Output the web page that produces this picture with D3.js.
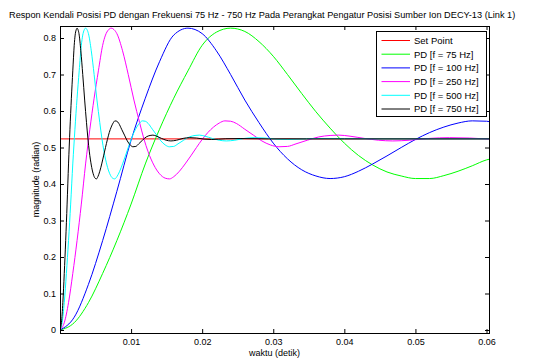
<!DOCTYPE html>
<html>
<head>
<meta charset="utf-8">
<script src="https://cdn.jsdelivr.net/npm/d3@7"></script>
<style>
  body { margin: 0; background: #fff; }
  svg { font-family: "Liberation Sans", Arial, sans-serif; }
</style>
</head>
<body>
<svg id="chart" width="534" height="360"></svg>
<script>
// ---- data ----
const title = "Respon Kendali Posisi PD dengan Frekuensi 75 Hz - 750 Hz Pada Perangkat Pengatur Posisi Sumber Ion DECY-13 (Link 1)";
const xLabel = "waktu (detik)";
const yLabel = "magnitude (radian)";
const seriesNames = ["Set Point", "PD [f = 75 Hz]", "PD [f = 100 Hz]", "PD [f = 250 Hz]", "PD [f = 500 Hz]", "PD [f = 750 Hz]"];
const xTicks = [0.01, 0.02, 0.03, 0.04, 0.05, 0.06];
const xTickLabels = ["0.01", "0.02", "0.03", "0.04", "0.05", "0.06"];
const yTicks = [0, 0.1, 0.2, 0.3, 0.4, 0.5, 0.6, 0.7, 0.8];
const yTickLabels = ["0", "0.1", "0.2", "0.3", "0.4", "0.5", "0.6", "0.7", "0.8"];

const setPointT = [0, 0.0604];
const setPointV = [0.5236, 0.5236];

const f75T = [0, 0.002, 0.004, 0.006, 0.008, 0.01, 0.012, 0.014, 0.016, 0.018, 0.02, 0.022, 0.024, 0.026, 0.028, 0.03,
  0.032, 0.034, 0.036, 0.038, 0.04, 0.042, 0.044, 0.046, 0.048, 0.05, 0.052, 0.054, 0.056, 0.058, 0.06, 0.0604];
const f75V = [0, 0.02, 0.075, 0.155, 0.245, 0.345, 0.455, 0.55, 0.635, 0.71, 0.78, 0.816, 0.827, 0.818, 0.79, 0.75,
  0.70, 0.648, 0.598, 0.553, 0.512, 0.478, 0.452, 0.433, 0.422, 0.415, 0.415, 0.423, 0.435, 0.45, 0.466, 0.468];

const f100T = [0, 0.002, 0.004, 0.006, 0.008, 0.01, 0.012, 0.014, 0.016, 0.018, 0.02, 0.022, 0.024, 0.026, 0.028, 0.03,
  0.032, 0.034, 0.036, 0.038, 0.04, 0.042, 0.044, 0.046, 0.048, 0.05, 0.052, 0.054, 0.056, 0.058, 0.06, 0.0604];
const f100V = [0, 0.035, 0.125, 0.245, 0.38, 0.52, 0.635, 0.735, 0.808, 0.827, 0.812, 0.765, 0.70, 0.63, 0.568, 0.512,
  0.469, 0.439, 0.422, 0.415, 0.42, 0.435, 0.455, 0.477, 0.5, 0.522, 0.541, 0.556, 0.567, 0.573, 0.572, 0.571];

const f250T = [0, 0.0006, 0.0012, 0.0018, 0.0024, 0.003, 0.0036, 0.0042, 0.0048, 0.0054, 0.006, 0.0064, 0.0068, 0.0072,
  0.0076, 0.008, 0.0088, 0.0096, 0.0104, 0.0112, 0.0118, 0.0124, 0.0132, 0.014, 0.0148, 0.0154, 0.016, 0.0168, 0.0176,
  0.0184, 0.0192, 0.02, 0.0208, 0.0216, 0.0224, 0.0232, 0.024, 0.0248, 0.026, 0.0272, 0.0284, 0.0296, 0.0308, 0.032,
  0.0332, 0.0348, 0.0364, 0.038, 0.0392, 0.0408, 0.0428, 0.0448, 0.0468, 0.0492, 0.052, 0.0548, 0.0576, 0.0604];
const f250V = [0, 0.02, 0.075, 0.155, 0.245, 0.345, 0.455, 0.55, 0.635, 0.71, 0.78, 0.808, 0.822, 0.827,
  0.823, 0.812, 0.765, 0.70, 0.63, 0.568, 0.524, 0.488, 0.452, 0.428, 0.416, 0.414, 0.42, 0.435, 0.455,
  0.477, 0.5, 0.522, 0.541, 0.556, 0.567, 0.573, 0.572, 0.566, 0.55, 0.534, 0.518, 0.507, 0.502, 0.503,
  0.51, 0.52, 0.529, 0.533, 0.534, 0.531, 0.525, 0.52, 0.518, 0.52, 0.525, 0.527, 0.526, 0.523];

const f500T = [0, 0.0003, 0.0006, 0.0009, 0.0012, 0.0015, 0.0018, 0.0021, 0.0024, 0.0027, 0.003, 0.0032, 0.0034, 0.0036,
  0.0038, 0.004, 0.0044, 0.0048, 0.0052, 0.0056, 0.0059, 0.0062, 0.0066, 0.007, 0.0074, 0.0077, 0.008, 0.0084, 0.0088,
  0.0092, 0.0096, 0.01, 0.0104, 0.0108, 0.0112, 0.0116, 0.012, 0.0124, 0.013, 0.0136, 0.0142, 0.0148, 0.0154, 0.016,
  0.0166, 0.0174, 0.0182, 0.019, 0.0196, 0.0204, 0.0214, 0.0224, 0.0234, 0.0246, 0.026, 0.0274, 0.0288, 0.0304,
  0.032, 0.035, 0.038, 0.044, 0.052, 0.0604];
const f500V = [0, 0.02, 0.075, 0.155, 0.245, 0.345, 0.455, 0.55, 0.635, 0.71, 0.78, 0.808, 0.822, 0.827,
  0.823, 0.812, 0.765, 0.70, 0.63, 0.568, 0.524, 0.488, 0.452, 0.428, 0.416, 0.414, 0.42, 0.435, 0.455,
  0.477, 0.5, 0.522, 0.541, 0.556, 0.567, 0.573, 0.572, 0.566, 0.55, 0.534, 0.518, 0.507, 0.502, 0.503,
  0.51, 0.52, 0.529, 0.533, 0.534, 0.531, 0.525, 0.52, 0.518, 0.52, 0.525, 0.527, 0.526, 0.523,
  0.522, 0.524, 0.5245, 0.5236, 0.5236, 0.5236];

const f750T = [0, 0.0002, 0.0004, 0.0006, 0.0008, 0.001, 0.0012, 0.0014, 0.0016, 0.0018, 0.002, 0.00213, 0.00227, 0.0024,
  0.00253, 0.00267, 0.00293, 0.0032, 0.00347, 0.00373, 0.00393, 0.00413, 0.0044, 0.00467, 0.00493, 0.00513, 0.00533,
  0.0056, 0.00587, 0.00613, 0.0064, 0.00667, 0.00693, 0.0072, 0.00747, 0.00773, 0.008, 0.00827, 0.00867, 0.00907,
  0.00947, 0.00987, 0.01027, 0.01067, 0.01107, 0.0116, 0.01213, 0.01267, 0.01307, 0.0136, 0.01427, 0.01493, 0.0156,
  0.0164, 0.01733, 0.01827, 0.0192, 0.02027, 0.02133, 0.02333, 0.02533, 0.02933, 0.03467, 0.04, 0.0604];
const f750V = [0, 0.02, 0.075, 0.155, 0.245, 0.345, 0.455, 0.55, 0.635, 0.71, 0.78, 0.808, 0.822, 0.827,
  0.823, 0.812, 0.765, 0.70, 0.63, 0.568, 0.524, 0.488, 0.452, 0.428, 0.416, 0.414, 0.42,
  0.435, 0.455, 0.477, 0.5, 0.522, 0.541, 0.556, 0.567, 0.573, 0.572, 0.566, 0.55, 0.534,
  0.518, 0.507, 0.502, 0.503, 0.51, 0.52, 0.529, 0.533, 0.534, 0.531, 0.525, 0.52, 0.518,
  0.52, 0.525, 0.527, 0.526, 0.523, 0.522, 0.524, 0.5245, 0.5236, 0.5236, 0.5236, 0.5236];

const colors = ["#ff0000", "#00ff00", "#0000ff", "#ff00ff", "#00ffff", "#000000"];

// ---- drawing ----
const svg = d3.select("#chart");
const margins = { left: 60, right: 45, top: 26, bottom: 27 };
const width = 534 - margins.left - margins.right;
const height = 360 - margins.top - margins.bottom;

const x = d3.scaleLinear().domain([0, 0.06035]).range([0, width]);
const y = d3.scaleLinear().domain([-0.0082, 0.8329]).range([height, 0]);

const g = svg.append("g").attr("transform", `translate(${margins.left}, ${margins.top})`);

svg.append("defs").append("clipPath").attr("id", "plotclip")
  .append("rect").attr("width", width).attr("height", height);

// title (starts at the left like the reference, small enough to fit)
svg.append("text")
  .attr("x", 9).attr("y", 18)
  .attr("font-size", 9.2).attr("fill", "#000")
  .text(title);

// lines
const series = [
  [setPointT, setPointV], [f75T, f75V], [f100T, f100V], [f250T, f250V], [f500T, f500V], [f750T, f750V]
].map(([ts, vs]) => ts.map((t, i) => [t, vs[i]]));

var valueLine = d3.line()
  .x((d) => x(d[0]))
  .y((d) => y(d[1]))
  .curve(d3.curveMonotoneX);

const lines = g.append("g").attr("clip-path", "url(#plotclip)");
series.forEach((dataset, i) => {
  lines.append("path")
    .datum(dataset)
    .attr("fill", "none")
    .attr("stroke", colors[i])
    .attr("stroke-width", 1)
    .attr("d", valueLine);
});

// axes (ticks inside, box around)
const xAxis = g.append("g").attr("transform", `translate(0, ${height})`)
  .call(d3.axisBottom(x).tickValues(xTicks).tickFormat((d, i) => xTickLabels[i]).tickSizeInner(-4).tickSizeOuter(0).tickPadding(6));
const xTop = g.append("g")
  .call(d3.axisTop(x).tickValues(xTicks).tickFormat("").tickSizeInner(-4).tickSizeOuter(0));
const yAxis = g.append("g")
  .call(d3.axisLeft(y).tickValues(yTicks).tickFormat((d, i) => yTickLabels[i]).tickSizeInner(-4).tickSizeOuter(0).tickPadding(4));
const yRight = g.append("g").attr("transform", `translate(${width}, 0)`)
  .call(d3.axisRight(y).tickValues(yTicks).tickFormat("").tickSizeInner(-4).tickSizeOuter(0));

[xAxis, xTop, yAxis, yRight].forEach((a) => {
  a.select(".domain").remove();
  a.selectAll("text").attr("font-size", 9).attr("font-family", null).attr("fill", "#000");
  a.selectAll("line").attr("stroke", "#000");
});

g.append("rect")
  .attr("x", 0.5).attr("y", 0.5).attr("width", width).attr("height", height)
  .attr("fill", "none").attr("stroke", "#000").attr("stroke-width", 1);

// axis labels
svg.append("text")
  .attr("x", margins.left + width / 2).attr("y", 356)
  .attr("text-anchor", "middle").attr("font-size", 9).text(xLabel);
svg.append("text")
  .attr("transform", `translate(39, ${margins.top + height / 2}) rotate(-90)`)
  .attr("text-anchor", "middle").attr("font-size", 9).text(yLabel);

// legend
const legend = svg.append("g").attr("transform", "translate(376.5, 31.5)");
legend.append("rect").attr("width", 110).attr("height", 85)
  .attr("fill", "#fff").attr("stroke", "#000").attr("stroke-width", 1);
seriesNames.forEach((name, i) => {
  const cy = 9 + i * 13.7;
  legend.append("line")
    .attr("x1", 5).attr("x2", 33.5).attr("y1", cy).attr("y2", cy)
    .attr("stroke", colors[i]).attr("stroke-width", 1);
  legend.append("text")
    .attr("x", 37.5).attr("y", cy + 3.3)
    .attr("font-size", 9.5).text(name);
});
</script>
</body>
</html>
